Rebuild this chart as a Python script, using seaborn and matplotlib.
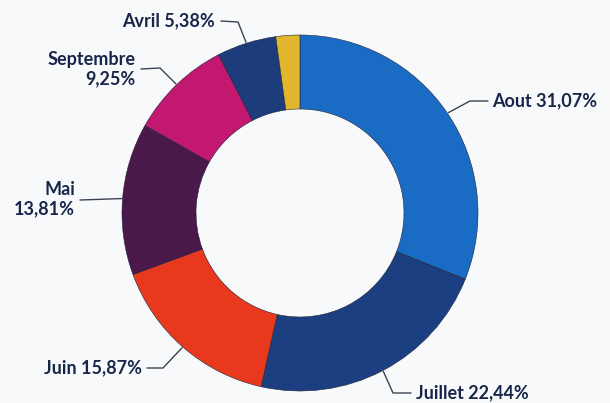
import numpy as np
import matplotlib
matplotlib.use("Agg")
import matplotlib.pyplot as plt
import seaborn as sns

# Data (clockwise from 12 o'clock)
months = ["Aout", "Juillet", "Juin", "Mai", "Septembre", "Avril", ""]
shares = [31.07, 22.44, 15.87, 13.81, 9.25, 5.38, 2.18]
label_texts = ["Aout 31,07%", "Juillet 22,44%", "Juin 15,87%", "Mai\n13,81%",
               "Septembre\n9,25%", "Avril 5,38%", None]
colors = ["#1a6bc3", "#1b3f80", "#e8391e", "#4a1849", "#c2186f", "#1c3c7c", "#e0b62e"]

sns.set_theme(style="white")
plt.rcParams["font.family"] = ["Lato", "DejaVu Sans"]

W, H = 610, 403
fig = plt.figure(figsize=(W / 100, H / 100), dpi=100)
fig.patch.set_facecolor("#f8f9fb")
ax = fig.add_axes([0, 0, 1, 1])
ax.set_facecolor("#f8f9fb")

cx, cy, R = 300, 213, 178
inner = 104


def px(x, y):
    # picture coords (top-left origin) -> data coords
    return x, H - y


wedges, _ = ax.pie(shares, colors=colors, startangle=90, counterclock=False,
                   radius=R, center=px(cx, cy),
                   wedgeprops=dict(width=R - inner, edgecolor="#20243a", linewidth=0.4))

# label layout: elbow point, end of leader, text position, alignment
layout = {
    "Aout": ((470, 101), (488, 101), (492, 101), "left"),
    "Juillet": ((393, 393), (411, 393), (416, 393), "left"),
    "Juin": ((163, 368), (147, 368), (142, 368), "right"),
    "Mai": ((80, 200), (80, 200), (75, 199), "right"),
    "Septembre": ((160, 68), (141, 69), (136, 69), "right"),
    "Avril": ((238, 22), (221, 21), (215, 21), "right"),
}

for w, m, txt in zip(wedges, months, label_texts):
    if txt is None:
        continue
    mid = np.deg2rad((w.theta1 + w.theta2) / 2)
    sx = cx + (R + 1) * np.cos(mid)
    sy = cy - (R + 1) * np.sin(mid)
    elbow, end, tpos, ha = layout[m]
    xs = [sx, elbow[0], end[0]]
    ys = [sy, elbow[1], end[1]]
    ax.plot(*zip(*[px(x, y) for x, y in zip(xs, ys)]), color="#3b4252", lw=1.0)
    ax.text(*px(*tpos), txt, ha=ha, va="center", multialignment=ha,
            fontsize=13, fontweight="bold", color="#18264a", linespacing=1.2)

ax.set_xlim(0, W)
ax.set_ylim(0, H)
ax.set_aspect("equal")
ax.axis("off")

fig.savefig("out.png", dpi=100, facecolor=fig.get_facecolor())
